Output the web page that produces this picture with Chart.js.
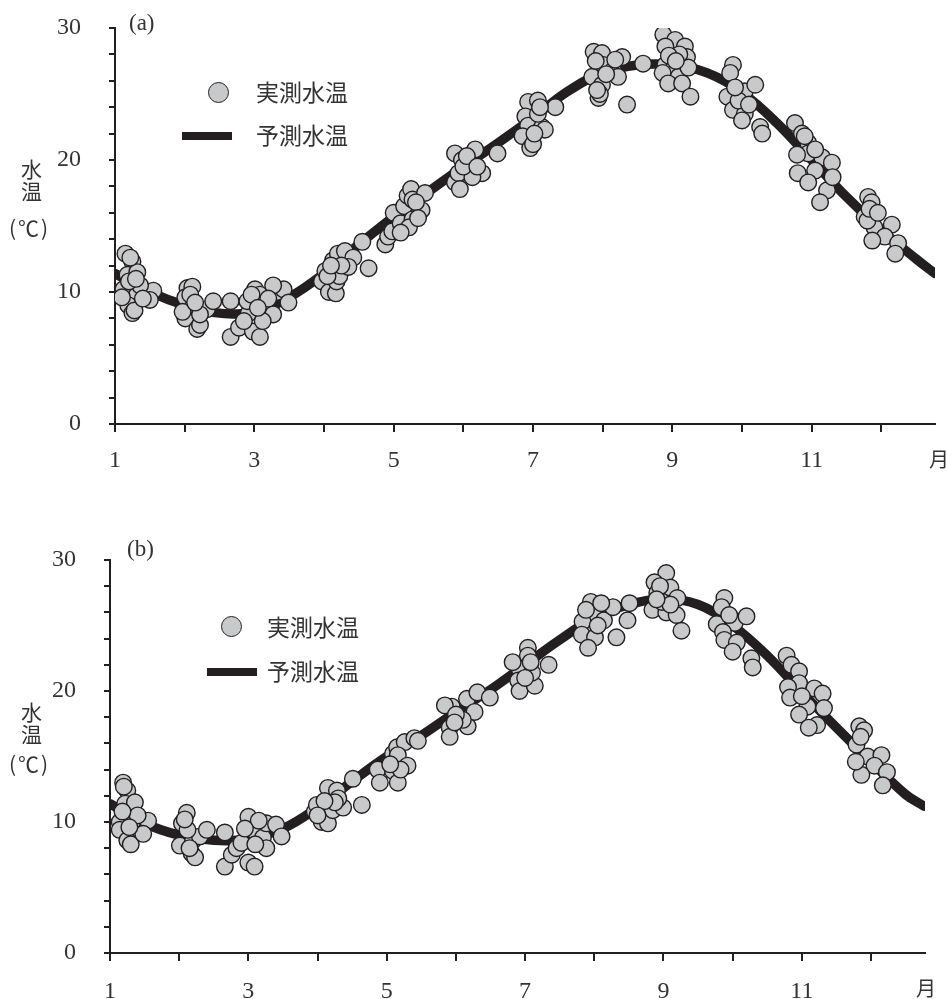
<!DOCTYPE html>
<html>
<head>
<meta charset="utf-8">
<script src="https://cdn.jsdelivr.net/npm/chart.js@4.4.1/dist/chart.umd.min.js"></script>
<style>
    body { margin: 0; background: #fff; }
    #wrap { position: relative; width: 948px; height: 999px; }
    canvas { position: absolute; left: 0; }
    .lbl { position: absolute; color: #333; white-space: nowrap; line-height: 1; }
    .serif { font-family: "Liberation Serif", "DejaVu Serif", serif; }
    .cjk { font-family: "Noto Sans CJK JP", sans-serif; }
    .dot { position: absolute; width: 19px; height: 19px; border-radius: 50%;
           background: #c8c9cb; border: 1.5px solid #231f20; }
    .bar { position: absolute; height: 8px; width: 50px; background: #231f20; }
</style>
</head>
<body>
<div id="wrap">
    <canvas id="chartA" width="948" height="490" style="top:0"></canvas>
    <canvas id="chartB" width="948" height="499" style="top:500px"></canvas>

    <!-- (a) labels -->
    <div class="lbl serif" style="left:129px;top:11px;font-size:23px">(a)</div>
    <div class="lbl cjk" style="left:21px;top:157px;font-size:21px;line-height:22px">水<br>温</div>
    <div class="lbl cjk" style="left:9px;top:217px;font-size:21px;letter-spacing:2px">(℃)</div>
    <div class="dot" style="left:208px;top:82px"></div>
    <div class="lbl cjk" style="left:256px;top:80px;font-size:23px">実測水温</div>
    <div class="bar" style="left:182px;top:132px"></div>
    <div class="lbl cjk" style="left:256px;top:123px;font-size:23px">予測水温</div>
    <div class="lbl cjk" style="left:929px;top:449px;font-size:20px">月</div>

    <!-- (b) labels -->
    <div class="lbl serif" style="left:127px;top:537px;font-size:23px">(b)</div>
    <div class="lbl cjk" style="left:21px;top:700px;font-size:21px;line-height:22px">水<br>温</div>
    <div class="lbl cjk" style="left:9px;top:753px;font-size:21px;letter-spacing:2px">(℃)</div>
    <div class="dot" style="left:221px;top:616px"></div>
    <div class="lbl cjk" style="left:267px;top:615px;font-size:23px">実測水温</div>
    <div class="bar" style="left:207px;top:668px"></div>
    <div class="lbl cjk" style="left:267px;top:659px;font-size:23px">予測水温</div>
    <div class="lbl cjk" style="left:916px;top:978px;font-size:20px">月</div>
</div>

<script>
// =======================
// Data (month, water temperature)
// =======================
const monthTicks = [1, 3, 5, 7, 9, 11];
const tempTicks = [0, 10, 20, 30];

// predicted curve, shared months
const predMonth = [1, 1.5, 2, 2.5, 3, 3.5, 4, 4.5, 5, 5.5, 6, 6.5, 7, 7.5, 8, 8.5, 9, 9.5, 10, 10.5, 11, 11.5, 12, 12.5, 12.77];
const predTempA = [11.4, 10.0, 9.0, 8.4, 8.5, 9.6, 11.4, 13.6, 15.7, 17.6, 19.5, 21.3, 23.2, 25.2, 26.6, 27.2, 27.2, 26.6, 25.1, 22.8, 20.0, 17.2, 14.7, 12.5, 11.4];
const predTempB = [11.4, 9.9, 9.0, 8.6, 8.7, 9.5, 11.1, 13.1, 15.0, 16.6, 18.4, 20.1, 22.0, 23.9, 25.6, 26.6, 27.0, 26.6, 25.0, 22.7, 19.9, 17.2, 14.6, 12.1, 11.2];

// measured (a)
const obsMonthA = [
    1.15, 1.25, 1.18, 1.32, 1.12, 1.25, 1.32, 1.19, 1.25, 1.28, 1.55, 1.5, 1.36, 1.22, 1.2, 1.1, 1.4, 1.3,
    2.04, 2.11, 2.01, 2.12, 2.01, 2.18, 2.22, 2.32, 2.41, 2.22, 1.97, 2.08, 2.15,
    2.66, 2.66, 2.78, 3.01, 2.92, 2.98, 3.08, 2.9, 3.08, 3.12, 3.18, 3.27, 3.33, 3.42, 3.49, 3.27, 3.12, 3.2, 2.96, 3.05, 2.85,
    3.97, 4.02, 4.07, 4.17, 4.13, 4.2, 4.3, 4.18, 4.22, 4.42, 4.35, 4.64, 4.55, 4.25, 4.05, 4.1,
    4.88, 4.92, 4.98, 5.05, 5.0, 5.1, 5.15, 5.2, 5.25, 5.27, 5.45, 5.27, 5.4, 5.22, 5.32, 5.1, 5.35,
    5.88, 5.98, 6.17, 5.88, 5.93, 6.27, 6.13, 6.49, 6.0, 6.05, 6.2, 5.95,
    6.93, 7.07, 6.89, 6.93, 6.85, 6.96, 7.13, 7.17, 7.07, 7.32, 7.0, 7.1, 7.02,
    7.87, 7.99, 8.01, 7.85, 7.99, 7.94, 8.15, 8.22, 8.28, 8.18, 7.96, 8.35, 8.58, 7.9, 8.05, 7.92,
    8.87, 9.04, 8.9, 9.18, 9.21, 8.9, 9.0, 9.09, 8.86, 8.94, 9.14, 9.26, 9.23, 9.1, 8.95, 9.05,
    9.87, 9.83, 9.79, 10.04, 10.19, 9.87, 10.04, 10.0, 10.26, 10.29, 9.95, 9.9, 10.1,
    10.76, 10.86, 10.95, 10.95, 10.79, 11.15, 11.29, 10.8, 11.05, 10.95, 11.22, 11.12, 11.3, 10.9, 11.05,
    11.81, 11.86, 11.76, 11.9, 12.15, 12.05, 11.87, 12.24, 12.2, 11.8, 11.83, 11.95
];
const obsTempA = [
    12.9, 12.3, 11.3, 11.5, 10.2, 9.9, 9.8, 9.0, 8.4, 8.6, 10.1, 9.4, 10.5, 12.6, 10.8, 9.6, 9.5, 11.0,
    10.3, 10.4, 9.6, 8.9, 8.0, 7.2, 7.5, 8.7, 9.3, 8.3, 8.5, 9.8, 9.2,
    9.3, 6.6, 7.3, 10.2, 8.4, 7.0, 6.6, 9.3, 9.8, 9.0, 8.6, 8.3, 10.0, 10.2, 9.2, 10.5, 7.8, 9.5, 9.8, 8.8, 7.8,
    10.8, 11.6, 10.0, 9.9, 12.4, 12.9, 13.1, 10.8, 11.2, 12.6, 11.9, 11.8, 13.8, 12.0, 11.2, 12.0,
    13.6, 14.2, 14.6, 15.8, 16.0, 15.2, 16.5, 17.3, 17.8, 17.0, 17.5, 15.5, 16.2, 14.9, 16.8, 14.5, 15.6,
    20.5, 20.0, 20.8, 18.3, 19.0, 19.0, 18.7, 20.5, 19.5, 20.3, 19.5, 17.8,
    24.4, 24.5, 23.3, 22.6, 21.8, 20.9, 22.5, 22.3, 23.5, 24.0, 21.2, 24.0, 22.0,
    28.2, 28.1, 27.2, 26.3, 25.7, 24.7, 26.8, 26.3, 27.8, 27.6, 25.0, 24.2, 27.3, 27.5, 26.5, 25.3,
    29.5, 29.1, 28.6, 28.6, 27.8, 27.2, 26.8, 26.3, 26.6, 25.8, 25.8, 24.8, 27.0, 28.0, 27.9, 27.5,
    27.2, 26.6, 24.8, 25.2, 25.7, 23.8, 23.5, 23.0, 22.5, 22.0, 24.5, 25.5, 24.2,
    22.8, 22.0, 21.3, 20.5, 20.4, 20.2, 19.8, 19.0, 19.2, 18.3, 17.7, 16.8, 18.7, 21.8, 20.8,
    17.2, 16.8, 15.7, 14.9, 15.1, 14.2, 13.9, 13.7, 12.9, 15.4, 16.3, 16.0
];

// measured (b)
const obsMonthB = [
    1.19, 1.25, 1.22, 1.36, 1.14, 1.32, 1.14, 1.25, 1.3, 1.55, 1.48, 1.4, 1.2, 1.18, 1.28,
    2.11, 2.04, 2.01, 2.18, 2.23, 2.2, 2.3, 2.4, 2.12, 2.08, 2.15,
    2.66, 2.66, 2.76, 2.83, 3.0, 2.9, 3.0, 3.09, 3.07, 3.21, 3.26, 3.26, 3.4, 3.48, 3.15, 2.95, 3.1,
    3.96, 3.99, 4.15, 4.28, 4.06, 4.15, 4.22, 4.37, 4.51, 4.64, 4.3, 4.25, 4.1, 4.0,
    4.87, 4.9, 5.09, 5.12, 5.09, 5.15, 5.26, 5.16, 5.4, 5.3, 5.16, 5.45, 5.2, 5.05,
    5.94, 5.84, 6.16, 6.31, 5.91, 5.91, 6.17, 6.27, 6.1, 6.49, 6.0, 5.98,
    7.04, 7.04, 6.92, 6.82, 6.9, 6.92, 7.14, 7.1, 7.34, 7.0, 7.08,
    7.95, 7.99, 7.83, 7.82, 8.01, 7.91, 8.14, 8.27, 8.32, 8.1, 8.51, 8.48, 7.88, 8.05,
    9.04, 8.87, 8.91, 9.1, 9.2, 8.84, 9.04, 9.19, 9.26, 8.98, 8.95, 9.1, 8.9,
    9.88, 9.84, 9.77, 10.03, 10.2, 9.86, 9.88, 10.06, 10.27, 10.29, 10.0, 9.95,
    10.78, 10.85, 10.96, 10.96, 10.8, 11.18, 11.3, 10.83, 11.08, 10.96, 11.22, 11.1, 11.32, 11.0,
    11.83, 11.9, 11.79, 11.95, 12.15, 12.05, 11.86, 12.23, 12.17, 11.78, 11.85
];
const obsTempB = [
    13.0, 12.4, 11.4, 11.5, 10.0, 10.0, 9.4, 8.6, 8.3, 10.1, 9.1, 10.5, 12.7, 10.8, 9.6,
    10.7, 9.9, 8.2, 7.6, 7.3, 8.6, 8.9, 9.4, 9.4, 10.2, 8.0,
    9.2, 6.6, 7.5, 8.0, 10.4, 8.4, 6.9, 6.6, 9.4, 8.8, 8.0, 9.9, 9.8, 8.9, 10.1, 9.5, 8.3,
    10.8, 11.3, 12.6, 12.4, 10.0, 9.9, 10.9, 11.1, 13.3, 11.3, 11.8, 11.5, 11.6, 10.5,
    14.0, 13.0, 15.2, 14.6, 13.9, 15.7, 16.1, 15.1, 16.4, 14.3, 13.0, 16.2, 14.0, 14.4,
    18.8, 18.9, 19.4, 19.9, 17.2, 16.5, 17.3, 18.4, 17.8, 19.5, 18.2, 17.6,
    23.3, 22.7, 21.7, 22.2, 20.8, 20.0, 20.4, 21.4, 22.0, 21.0, 22.2,
    26.8, 25.9, 25.3, 24.3, 24.1, 23.3, 25.4, 26.4, 24.1, 26.7, 26.7, 25.4, 26.2, 25.0,
    29.0, 28.3, 27.5, 27.9, 27.1, 26.2, 26.0, 25.8, 24.6, 26.8, 28.0, 26.6, 27.0,
    27.1, 26.4, 25.1, 25.2, 25.7, 24.5, 23.9, 23.7, 22.5, 21.8, 23.0, 25.8,
    22.7, 22.0, 21.5, 20.6, 20.3, 20.2, 19.8, 19.5, 18.8, 18.2, 17.4, 17.2, 18.7, 19.6,
    17.3, 17.0, 15.9, 15.0, 15.1, 14.3, 13.6, 13.8, 12.8, 14.6, 16.5
];

// =======================
// Helpers
// =======================
const INK = "#231f20";
const TEXT = "#333";

function toPoints(xs, ys) {
    return xs.map((x, i) => ({ x: x, y: ys[i] }));
}

function buildChart(canvasId, obsX, obsY, predY, box) {
    const ctx = document.getElementById(canvasId).getContext("2d");

    return new Chart(ctx, {
        type: "scatter",
        data: {
            datasets: [
                {
                    label: "実測水温",
                    data: toPoints(obsX, obsY),
                    pointRadius: 8.3,
                    pointBackgroundColor: "#c8c9cb",
                    pointBorderColor: INK,
                    pointBorderWidth: 1.4,
                    order: 1
                },
                {
                    label: "予測水温",
                    data: toPoints(predMonth, predY),
                    showLine: true,
                    tension: 0.4,
                    borderColor: INK,
                    borderWidth: 9.5,
                    borderCapStyle: "round",
                    pointRadius: 0,
                    order: 2
                }
            ]
        },
        options: {
            responsive: false,
            animation: false,
            events: [],
            layout: { autoPadding: false, padding: { top: box.top, right: box.right, left: 0, bottom: 0 } },
            plugins: { legend: { display: false }, tooltip: { enabled: false } },
            scales: {
                x: {
                    type: "linear",
                    min: 1,
                    max: box.xMax,
                    afterFit: (scale) => {
                        scale.height = box.xAxisH;
                        scale.paddingLeft = 0;
                        scale.paddingRight = 0;
                    },
                    grid: { drawOnChartArea: false, tickLength: 8, color: INK, lineWidth: 2 },
                    border: { color: INK, width: 2 },
                    ticks: {
                        stepSize: 1,
                        includeBounds: false,
                        autoSkip: false,
                        maxRotation: 0,
                        padding: box.xPad,
                        color: TEXT,
                        font: { family: "Liberation Serif", size: 24 },
                        callback: (v) => monthTicks.includes(v) ? String(v) : ""
                    }
                },
                y: {
                    min: 0,
                    max: 30,
                    afterFit: (scale) => {
                        // keep label padding from pushing the plot area down
                        scale.width = box.left;
                        scale.paddingTop = 0;
                        scale.paddingBottom = 0;
                    },
                    grid: { drawOnChartArea: false, tickLength: 6, color: INK, lineWidth: 2 },
                    border: { color: INK, width: 2 },
                    ticks: {
                        stepSize: 2,
                        autoSkip: false,
                        padding: 28,
                        color: TEXT,
                        font: { family: "Liberation Serif", size: 24 },
                        callback: (v) => tempTicks.includes(v) ? String(v) : ""
                    }
                }
            }
        }
    });
}

// =======================
// Draw both panels
// =======================
buildChart("chartA", obsMonthA, obsTempA, predTempA,
    { left: 115, right: 13, top: 28, xAxisH: 66, xMax: 12.77, xPad: 14 });

buildChart("chartB", obsMonthB, obsTempB, predTempB,
    { left: 110, right: 23, top: 60, xAxisH: 46, xMax: 12.78, xPad: 16 });
</script>
</body>
</html>
